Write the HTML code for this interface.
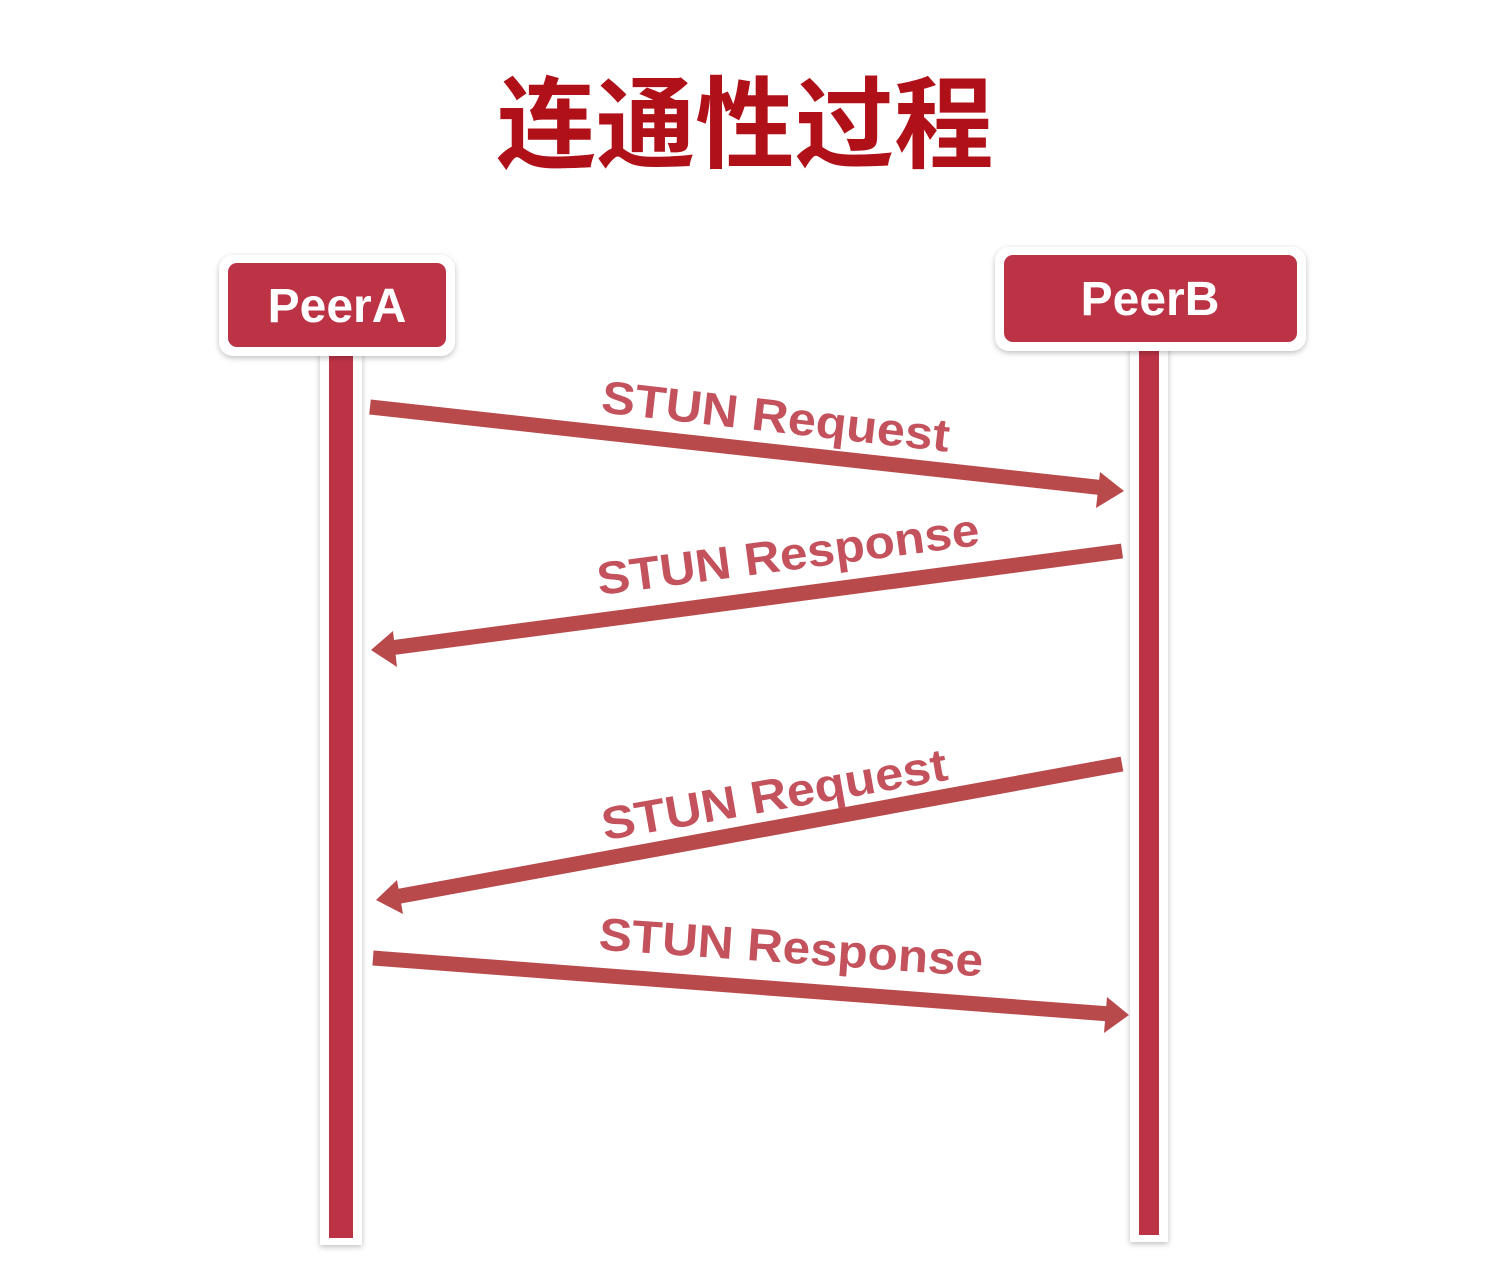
<!DOCTYPE html>
<html><head><meta charset="utf-8"><style>
html,body{margin:0;padding:0;background:#fff;}
svg{display:block;}
</style></head><body>
<svg width="1500" height="1270" viewBox="0 0 1500 1270" xmlns="http://www.w3.org/2000/svg">
<defs>
<filter id="sh" x="-20%" y="-20%" width="140%" height="140%"><feDropShadow dx="0" dy="2" stdDeviation="3" flood-color="#000" flood-opacity="0.25"/></filter>
</defs>
<rect width="1500" height="1270" fill="#fff"/>
<text x="745" y="160" text-anchor="middle" font-family="'Noto Sans CJK SC','WenQuanYi Zen Hei',sans-serif" font-weight="bold" font-size="100" fill="#b01018" textLength="497" lengthAdjust="spacingAndGlyphs">连通性过程</text>

<!-- lifelines -->
<rect x="320" y="350" width="42" height="895" fill="#fff" filter="url(#sh)"/>
<rect x="329" y="355" width="24" height="883" fill="#bd3346"/>
<rect x="1130" y="345" width="38" height="897" fill="#fff" filter="url(#sh)"/>
<rect x="1139" y="350" width="20" height="885" fill="#bd3346"/>

<!-- boxes -->
<rect x="219" y="255" width="236" height="101" rx="14" fill="#fff" filter="url(#sh)"/>
<rect x="228" y="263" width="218" height="84" rx="9" fill="#bd3346"/>
<text x="337" y="322" text-anchor="middle" font-family="'Liberation Sans',sans-serif" font-weight="bold" font-size="48" fill="#fff">PeerA</text>
<rect x="995" y="247" width="311" height="104" rx="14" fill="#fff" filter="url(#sh)"/>
<rect x="1004" y="255" width="293" height="87" rx="9" fill="#bd3346"/>
<text x="1150" y="315" text-anchor="middle" font-family="'Liberation Sans',sans-serif" font-weight="bold" font-size="48" fill="#fff">PeerB</text>

<!-- arrows -->
<g stroke="#b84a4c" stroke-width="15" fill="none">
<line x1="370" y1="407" x2="1105" y2="488"/>
<line x1="1122" y1="551" x2="390" y2="648"/>
<line x1="1122" y1="764" x2="395" y2="897"/>
<line x1="373" y1="958" x2="1110" y2="1014"/>
</g>
<g fill="#b84a4c">
<polygon points="1124,491 1100,472 1096,508"/>
<polygon points="371,650 393,631 397,667"/>
<polygon points="376,900 397,880 403,914"/>
<polygon points="1129,1015 1107,997 1104,1033"/>
</g>

<!-- labels -->
<g font-family="'Liberation Sans',sans-serif" font-weight="bold" font-size="46" fill="#c4525c" text-anchor="middle">
<text transform="translate(774,432) rotate(6.5)" textLength="350" lengthAdjust="spacingAndGlyphs">STUN Request</text>
<text transform="translate(790,570) rotate(-7.5)" textLength="385" lengthAdjust="spacingAndGlyphs">STUN Response</text>
<text transform="translate(777,810) rotate(-10)" textLength="350" lengthAdjust="spacingAndGlyphs">STUN Request</text>
<text transform="translate(790,963) rotate(4)" textLength="385" lengthAdjust="spacingAndGlyphs">STUN Response</text>
</g>
</svg>
</body></html>
